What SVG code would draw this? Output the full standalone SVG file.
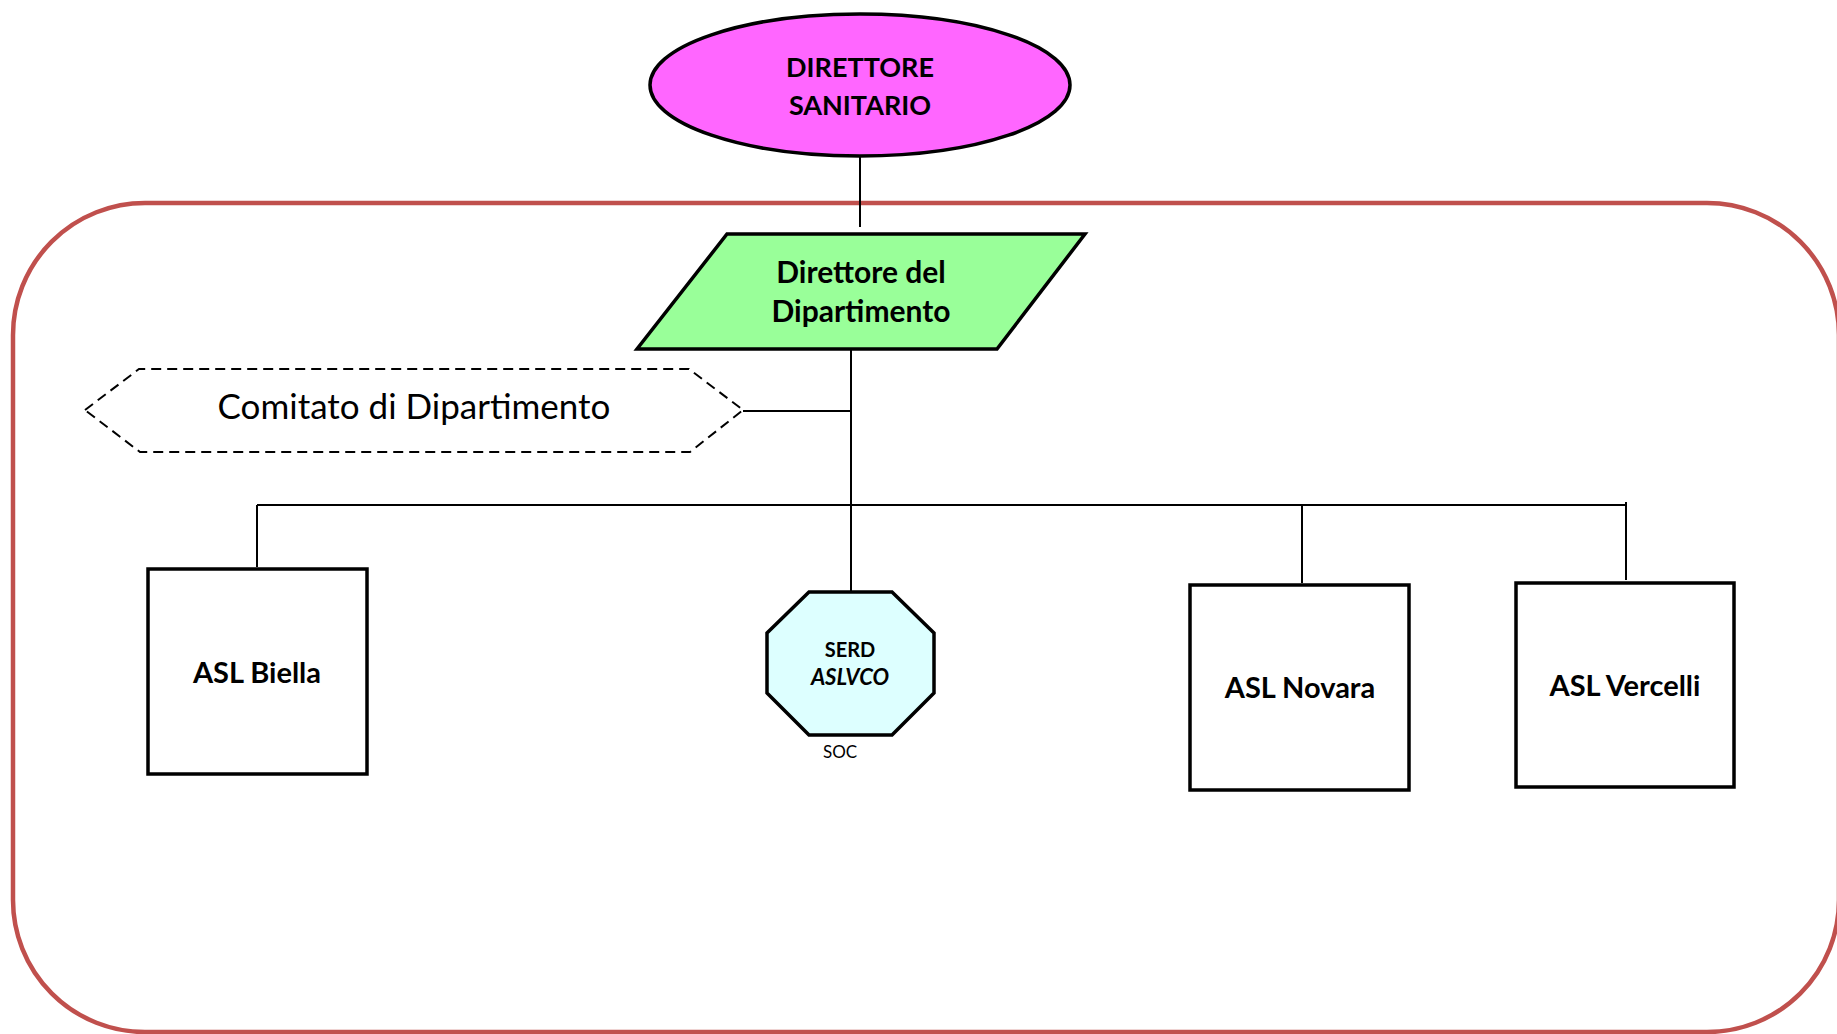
<svg xmlns="http://www.w3.org/2000/svg" width="1837" height="1034" viewBox="0 0 1837 1034">
<style>
.shape{stroke:#000;stroke-width:3.5}
.conn{stroke:#000;stroke-width:2;fill:none}
.t{font-family:Lato,"Liberation Sans",sans-serif;fill:#000;text-anchor:middle}
.b{font-weight:bold}
</style>
<rect x="0" y="0" width="1837" height="1034" fill="#fff"/>
<g id="frame">
<rect x="13" y="203" width="1826" height="829" rx="132" ry="132" fill="none" stroke="#C0504D" stroke-width="4.5"/>
</g>
<g id="connectors">
<line class="conn" x1="860" y1="157" x2="860" y2="227"/>
<line class="conn" x1="851" y1="349" x2="851" y2="592"/>
<line class="conn" x1="743" y1="411" x2="851" y2="411"/>
<line class="conn" x1="257" y1="505" x2="1627" y2="505"/>
<line class="conn" x1="257" y1="505" x2="257" y2="567"/>
<line class="conn" x1="1302" y1="505" x2="1302" y2="583"/>
<line class="conn" x1="1626" y1="502" x2="1626" y2="580"/>
</g>
<g id="direttore-sanitario">
<ellipse class="shape" cx="860" cy="85" rx="210" ry="71" fill="#FF66FF"/>
<text class="t b" x="860" y="77" font-size="27">DIRETTORE</text>
<text class="t b" x="860" y="115" font-size="27">SANITARIO</text>
</g>
<g id="direttore-dipartimento">
<polygon class="shape" points="727,234 1085,234 997,349 637,349" fill="#99FF99"/>
<text class="t b" x="861" y="283" font-size="30">Direttore del</text>
<text class="t b" x="861" y="322" font-size="30">Dipartimento</text>
</g>
<g id="comitato">
<polygon points="85,410 139,369 689,369 743,410 690,452 140,452" fill="none" stroke="#000" stroke-width="2" stroke-dasharray="10,6"/>
<text class="t" x="414" y="419" font-size="35">Comitato di Dipartimento</text>
</g>
<g id="asl-biella">
<rect class="shape" x="148" y="569" width="219" height="205" fill="#fff"/>
<text class="t b" x="257" y="683" font-size="29">ASL Biella</text>
</g>
<g id="serd">
<polygon class="shape" points="809,592 892,592 934,633 934,693 892,735 809,735 767,693 767,633" fill="#DDFFFF"/>
<text class="t b" x="850" y="657" font-size="20">SERD</text>
<text class="t b" x="850" y="685" font-size="22" font-style="italic">ASLVCO</text>
<text class="t" x="840" y="758" font-size="17">SOC</text>
</g>
<g id="asl-novara">
<rect class="shape" x="1190" y="585" width="219" height="205" fill="#fff"/>
<text class="t b" x="1300" y="698" font-size="29">ASL Novara</text>
</g>
<g id="asl-vercelli">
<rect class="shape" x="1516" y="583" width="218" height="204" fill="#fff"/>
<text class="t b" x="1625" y="696" font-size="29">ASL Vercelli</text>
</g>
</svg>
